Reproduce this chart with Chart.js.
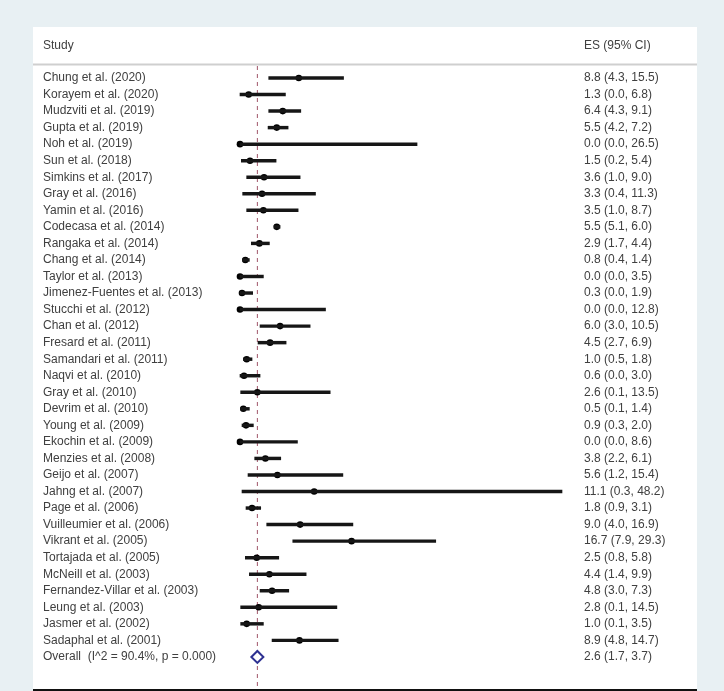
<!DOCTYPE html>
<html>
<head>
<meta charset="utf-8">
<script src="https://cdn.jsdelivr.net/npm/chart.js@4"></script>
<style>
  html, body { margin: 0; padding: 0; background: #e8f0f3; }
  canvas { display: block; }
</style>
</head>
<body>
<canvas id="forest" width="724" height="691"></canvas>
<script>
// study rows, top to bottom
const studies = [
  "Chung et al. (2020)", "Korayem et al. (2020)", "Mudzviti et al. (2019)", "Gupta et al. (2019)",
  "Noh et al. (2019)", "Sun et al. (2018)", "Simkins et al. (2017)", "Gray et al. (2016)",
  "Yamin et al. (2016)", "Codecasa et al. (2014)", "Rangaka et al. (2014)", "Chang et al. (2014)",
  "Taylor et al. (2013)", "Jimenez-Fuentes et al. (2013)", "Stucchi et al. (2012)", "Chan et al. (2012)",
  "Fresard et al. (2011)", "Samandari et al. (2011)", "Naqvi et al. (2010)", "Gray et al. (2010)",
  "Devrim et al. (2010)", "Young et al. (2009)", "Ekochin et al. (2009)", "Menzies et al. (2008)",
  "Geijo et al. (2007)", "Jahng et al. (2007)", "Page et al. (2006)", "Vuilleumier et al. (2006)",
  "Vikrant et al. (2005)", "Tortajada et al. (2005)", "McNeill et al. (2003)", "Fernandez-Villar et al. (2003)",
  "Leung et al. (2003)", "Jasmer et al. (2002)", "Sadaphal et al. (2001)"
];
const es = [8.8, 1.3, 6.4, 5.5, 0.0, 1.5, 3.6, 3.3, 3.5, 5.5, 2.9, 0.8, 0.0, 0.3, 0.0, 6.0, 4.5, 1.0,
  0.6, 2.6, 0.5, 0.9, 0.0, 3.8, 5.6, 11.1, 1.8, 9.0, 16.7, 2.5, 4.4, 4.8, 2.8, 1.0, 8.9];
const lower = [4.3, 0.0, 4.3, 4.2, 0.0, 0.2, 1.0, 0.4, 1.0, 5.1, 1.7, 0.4, 0.0, 0.0, 0.0, 3.0, 2.7, 0.5,
  0.0, 0.1, 0.1, 0.3, 0.0, 2.2, 1.2, 0.3, 0.9, 4.0, 7.9, 0.8, 1.4, 3.0, 0.1, 0.1, 4.8];
const upper = [15.5, 6.8, 9.1, 7.2, 26.5, 5.4, 9.0, 11.3, 8.7, 6.0, 4.4, 1.4, 3.5, 1.9, 12.8, 10.5, 6.9, 1.8,
  3.0, 13.5, 1.4, 2.0, 8.6, 6.1, 15.4, 48.2, 3.1, 16.9, 29.3, 5.8, 9.9, 7.3, 14.5, 3.5, 14.7];

const overallLabel = "Overall  (I^2 = 90.4%, p = 0.000)";
const overallEs = 2.6, overallLo = 1.7, overallHi = 3.7;

const fmt = (v, l, h) => `${v.toFixed(1)} (${l.toFixed(1)}, ${h.toFixed(1)})`;
const FONT = '12px "Liberation Sans", Arial, sans-serif';
const TEXT = "#404040";

// white panel, header, column texts
const frame = {
  id: "frame",
  beforeDraw(chart) {
    const ctx = chart.ctx;
    ctx.save();
    ctx.fillStyle = "#ffffff";
    ctx.fillRect(33, 27, 664, 664);
    ctx.strokeStyle = "#cfcfcf";
    ctx.lineWidth = 2;
    ctx.beginPath(); ctx.moveTo(33, 64.5); ctx.lineTo(697, 64.5); ctx.stroke();
    ctx.restore();
  },
  beforeDatasetsDraw(chart) {
    const ctx = chart.ctx;
    const x = chart.scales.x.getPixelForValue(overallEs);
    ctx.save();
    ctx.strokeStyle = "#a0566a";
    ctx.lineWidth = 1;
    ctx.setLineDash([4, 4]);
    ctx.beginPath(); ctx.moveTo(x, 66); ctx.lineTo(x, 689); ctx.stroke();
    ctx.restore();
  },
  afterDraw(chart) {
    const ctx = chart.ctx, y = chart.scales.y;
    ctx.save();
    ctx.font = FONT;
    ctx.fillStyle = TEXT;
    ctx.textBaseline = "middle";
    ctx.fillText("Study", 43, 46);
    ctx.fillText("ES (95% CI)", 584, 46);
    studies.forEach((s, i) => {
      const py = y.getPixelForValue(i);
      ctx.fillText(s, 43, py);
      ctx.fillText(fmt(es[i], lower[i], upper[i]), 584, py);
    });
    const oy = y.getPixelForValue(studies.length);
    ctx.fillText(overallLabel, 43, oy);
    ctx.fillText(fmt(overallEs, overallLo, overallHi), 584, oy);
    ctx.strokeStyle = "#111111";
    ctx.lineWidth = 2;
    ctx.beginPath(); ctx.moveTo(33, 690); ctx.lineTo(697, 690); ctx.stroke();
    ctx.restore();
  }
};

new Chart(document.getElementById("forest"), {
  type: "scatter",
  data: {
    datasets: [
      {
        type: "bar",
        indexAxis: "y",
        data: studies.map((s, i) => ({ y: i, x: [lower[i], upper[i]] })),
        backgroundColor: "#161616",
        barThickness: 2.8,
        clip: false
      },
      {
        type: "scatter",
        data: studies.map((s, i) => ({ x: es[i], y: i })),
        pointRadius: 3.3,
        backgroundColor: "#000000",
        borderWidth: 0,
        clip: false
      },
      {
        type: "scatter",
        data: [{ x: overallEs, y: studies.length }],
        pointStyle: "rectRot",
        pointRadius: 6,
        borderColor: "#2e3192",
        borderWidth: 2,
        backgroundColor: "#ffffff",
        clip: false
      }
    ]
  },
  options: {
    responsive: false,
    animation: false,
    layout: { autoPadding: false, padding: { left: 240, right: 162, top: 65, bottom: 1 } },
    plugins: { legend: { display: false }, tooltip: { enabled: false } },
    scales: {
      x: { type: "linear", min: 0, max: 48.2, offset: false, display: false },
      y: { type: "linear", min: -0.786, max: 37.0, reverse: true, offset: false, display: false }
    }
  },
  plugins: [frame]
});
</script>
</body>
</html>
